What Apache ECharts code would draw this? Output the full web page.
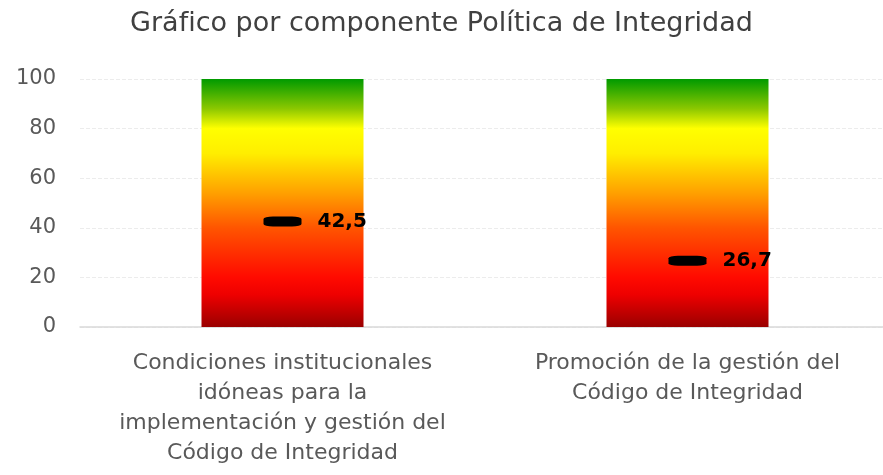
<!DOCTYPE html>
<html lang="es">
<head>
<meta charset="UTF-8">
<title>Gráfico por componente</title>
<script src="https://cdn.jsdelivr.net/npm/echarts@6.0.0/dist/echarts.min.js"></script>
<style>
  html, body { margin: 0; padding: 0; background: #fff; }
  #chart { width: 883px; height: 475px; }
</style>
</head>
<body>
<div id="chart"></div>
<script>
// data
const categories = [
    'Condiciones institucionales\nidóneas para la\nimplementación y gestión del\nCódigo de Integridad',
    'Promoción de la gestión del\nCódigo de Integridad'
];
const scaleMax = [100, 100];
const scores = [42.5, 26.7];
const yTicks = [0, 20, 40, 60, 80, 100];

const font = '"DejaVu Sans", sans-serif';

const gradient = new echarts.graphic.LinearGradient(0, 0, 0, 1, [
    { offset: 0, color: '#009a00' },
    { offset: 0.12, color: '#8cc800' },
    { offset: 0.2, color: '#ffff00' },
    { offset: 0.3, color: '#ffee00' },
    { offset: 0.46, color: '#ffa000' },
    { offset: 0.6, color: '#ff5500' },
    { offset: 0.8, color: '#ff0a00' },
    { offset: 0.87, color: '#ee0000' },
    { offset: 1, color: '#9a0000' }
]);

const chart = echarts.init(document.getElementById('chart'));
chart.setOption({
    animation: false,
    title: {
        text: 'Gráfico por componente Política de Integridad',
        left: 'center',
        top: 5,
        textStyle: { fontFamily: font, fontSize: 27, fontWeight: 'normal', color: '#404040' }
    },
    grid: { left: 80, right: -7, top: 79, bottom: 148, outerBoundsMode: 'none', containLabel: false },
    xAxis: {
        type: 'category',
        data: categories,
        axisTick: { show: false },
        axisLine: { lineStyle: { color: '#d9d9d9', width: 1.5 } },
        axisLabel: {
            interval: 0,
            margin: 21,
            fontFamily: font,
            fontSize: 22,
            lineHeight: 30,
            color: '#595959',
            align: 'center'
        }
    },
    yAxis: {
        type: 'value',
        min: yTicks[0],
        max: yTicks[yTicks.length - 1],
        interval: 20,
        axisLabel: { fontFamily: font, fontSize: 21, color: '#595959', margin: 24 },
        splitLine: { lineStyle: { color: '#ececec', type: 'dashed' } }
    },
    series: [
        {
            type: 'bar',
            data: scaleMax,
            barWidth: '40%',
            itemStyle: { color: gradient },
            silent: true
        },
        {
            type: 'scatter',
            data: scores,
            symbol: 'roundRect',
            symbolSize: [38, 10],
            itemStyle: { color: '#000', opacity: 1 },
            label: {
                show: true,
                position: 'right',
                distance: 16,
                fontFamily: font,
                fontSize: 20,
                fontWeight: 'bold',
                color: '#000',
                formatter: p => String(p.value).replace('.', ',')
            },
            z: 5
        }
    ]
});
</script>
</body>
</html>
